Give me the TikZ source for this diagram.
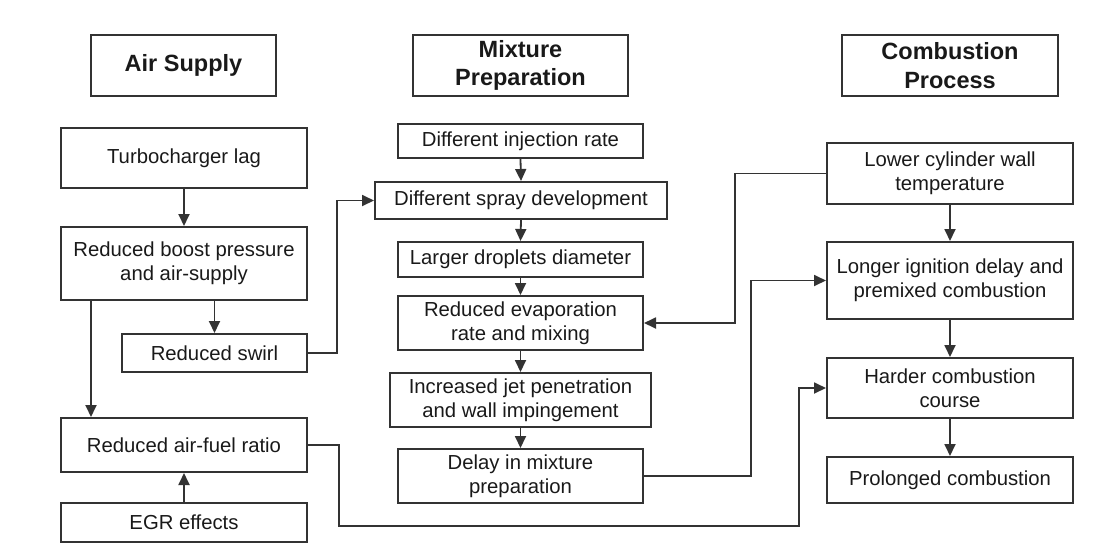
\documentclass[tikz,border=0pt]{standalone}
\usepackage{fontspec}
\setmainfont{Liberation Sans}
\usetikzlibrary{arrows.meta}
\begin{document}
\begin{tikzpicture}[x=1pt,y=-1pt,
  box/.style={draw=black!80, line width=2pt, align=center, inner sep=0pt,
    font=\fontsize{20.3}{24}\selectfont, text=black!90},
  hbox/.style={box, font=\bfseries\fontsize{23.5}{28.7}\selectfont},
  arr/.style={draw=black!80, line width=1.8pt, -{Triangle[length=12pt,width=11pt]}}]
\useasboundingbox (0,0) rectangle (1104,550);
% headers
\node[hbox, minimum width=185pt, minimum height=61pt] (hAir) at (183.5,65.5) {Air Supply};
\node[hbox, minimum width=215pt, minimum height=61pt] (hMix) at (520.5,65.5) {Mixture\\Preparation};
\node[hbox, minimum width=216pt, minimum height=61pt] (hComb) at (950,65.5) {Combustion\\Process};
% air supply column
\node[box, minimum width=246pt, minimum height=60pt] (turbo) at (184,158) {Turbocharger lag};
\node[box, minimum width=246pt, minimum height=73pt] (boost) at (184,263.5) {Reduced boost pressure\\and air-supply};
\node[box, minimum width=185pt, minimum height=38pt] (swirl) at (214.5,353) {Reduced swirl};
\node[box, minimum width=246pt, minimum height=54pt] (afr) at (184,445) {Reduced air-fuel ratio};
\node[box, minimum width=246pt, minimum height=39pt] (egr) at (184,522.5) {EGR effects};
% mixture column
\node[box, minimum width=245pt, minimum height=34pt] (inj) at (520.5,141) {Different injection rate};
\node[box, minimum width=292pt, minimum height=37pt] (spray) at (521,200.5) {Different spray development};
\node[box, minimum width=245pt, minimum height=35pt] (drop) at (520.5,259.5) {Larger droplets diameter};
\node[box, minimum width=245pt, minimum height=54pt] (evap) at (520.5,323) {Reduced evaporation\\rate and mixing};
\node[box, minimum width=261pt, minimum height=54pt] (jet) at (520.5,400) {Increased jet penetration\\and wall impingement};
\node[box, minimum width=245pt, minimum height=54pt] (delay) at (520.5,476) {Delay in mixture\\preparation};
% combustion column
\node[box, minimum width=246pt, minimum height=61pt] (lower) at (950,173.5) {Lower cylinder wall\\temperature};
\node[box, minimum width=246pt, minimum height=77pt] (longer) at (950,280.5) {Longer ignition delay and\\premixed combustion};
\node[box, minimum width=246pt, minimum height=60pt] (harder) at (950,388) {Harder combustion\\course};
\node[box, minimum width=246pt, minimum height=46pt] (prol) at (950,480) {Prolonged combustion};
% connector corners
\coordinate (c1) at (337,353);
\coordinate (c2) at (339,526);
\coordinate (c3) at (799,526);
\coordinate (c4) at (735,173.5);
\coordinate (c5) at (751,476);
% air supply arrows
\draw[arr] (turbo.south) -- (boost.north);
\draw[arr] (swirl.north |- boost.south) -- (swirl.north);
\draw[arr] ([xshift=31pt]boost.south west) -- ([xshift=31pt]afr.north west);
\draw[arr] (egr.north) -- (afr.south);
\draw[arr] (swirl.east) -- (c1) |- (spray.west);
\draw[arr] (afr.east) -| (c2) -- (c3) |- (harder.west);
% mixture arrows
\draw[arr] (inj.south) -- (spray.north);
\draw[arr] (spray.south) -- (drop.north);
\draw[arr] (drop.south) -- (evap.north);
\draw[arr] (evap.south) -- (jet.north);
\draw[arr] (jet.south) -- (delay.north);
% combustion arrows
\draw[arr] (lower.west) -- (c4) |- (evap.east);
\draw[arr] (delay.east) -- (c5) |- (longer.west);
\draw[arr] (lower.south) -- (longer.north);
\draw[arr] (longer.south) -- (harder.north);
\draw[arr] (harder.south) -- (prol.north);
\end{tikzpicture}
\end{document}
